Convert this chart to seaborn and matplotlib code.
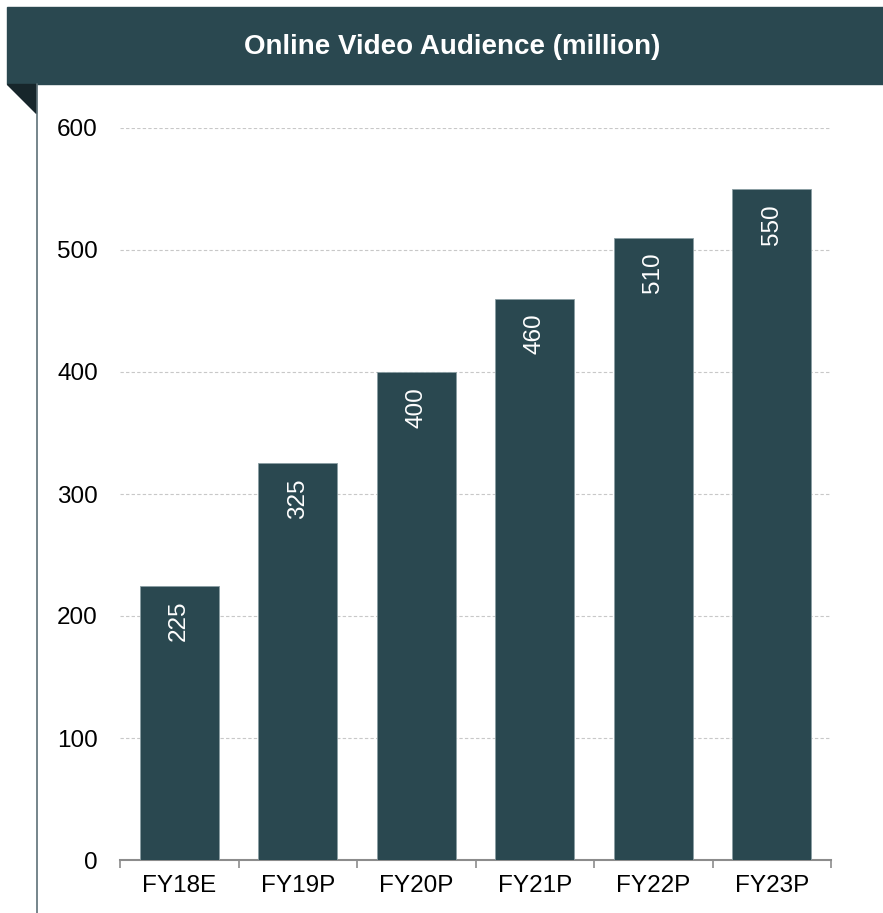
import matplotlib
matplotlib.use("Agg")
import matplotlib.pyplot as plt
import seaborn as sns
import pandas as pd
from matplotlib.patches import Rectangle, Polygon
from matplotlib.lines import Line2D

# data
years = ["FY18E", "FY19P", "FY20P", "FY21P", "FY22P", "FY23P"]
audience = [225, 325, 400, 460, 510, 550]
y_ticks = [0, 100, 200, 300, 400, 500, 600]

dark = "#2a4850"

sns.set_style("white")
plt.rcParams['font.family'] = ['Liberation Sans', 'DejaVu Sans']

df = pd.DataFrame({"year": years, "audience": audience})

W, H = 883, 913
fig = plt.figure(figsize=(W / 100, H / 100), dpi=100)

# banner at top
fig.patches.append(Rectangle((7 / W, 1 - 84 / H), 876 / W, 77 / H,
                             transform=fig.transFigure, color=dark, zorder=0))
fig.patches.append(Polygon([(7 / W, 1 - 84 / H), (36 / W, 1 - 84 / H), (36 / W, 1 - 113 / H)],
                           closed=True, transform=fig.transFigure, color="#17262b"))
fig.lines.append(Line2D([36.5 / W, 36.5 / W], [1 - 84 / H, 0], transform=fig.transFigure,
                        color="#5e7178", lw=1.2))
fig.text(452 / W, 1 - 47 / H, "Online Video Audience (million)", color="white",
         fontsize=20, fontweight="bold", ha="center", va="center")

ax = fig.add_axes([120 / W, 1 - 860 / H, 711 / W, 732 / H])
sns.barplot(data=df, x="year", y="audience", color=dark, saturation=1, width=0.667,
            edgecolor="#8a9ea3", linewidth=0.6, ax=ax, zorder=3)

ax.set_ylim(0, 600)
ax.set_xlim(-0.5, len(years) - 0.5)
ax.set_yticks(y_ticks)
ax.set_yticklabels([str(t) for t in y_ticks])
ax.yaxis.grid(True, linestyle=(0, (3, 2)), color="#c8c8c8", lw=0.8, zorder=0)
ax.set_axisbelow(True)
ax.set_xlabel("")
ax.set_ylabel("")

for side in ["top", "right", "left"]:
    ax.spines[side].set_visible(False)
ax.spines["bottom"].set_color("#8c8c8c")
ax.spines["bottom"].set_linewidth(1.5)

# tick marks at category boundaries
ax.set_xticks([i - 0.5 for i in range(len(years) + 1)], minor=True)
ax.tick_params(axis="x", which="minor", bottom=True, length=6, width=1.2, color="#8c8c8c", direction="out")
ax.tick_params(axis="x", which="major", bottom=False, length=0, labelsize=17.5, pad=11,
               labelcolor="black")
ax.tick_params(axis="y", length=0, labelsize=17.5, pad=16, labelcolor="black")

for i, v in enumerate(audience):
    ax.annotate(str(v), (i, v), xytext=(0, -15), textcoords="offset pixels",
                rotation=90, ha="center", va="top", color="white", fontsize=17.5, zorder=4)

fig.savefig("out.png", dpi=100)
